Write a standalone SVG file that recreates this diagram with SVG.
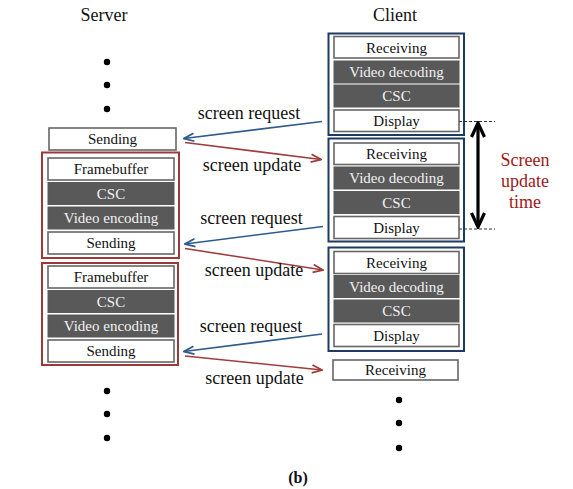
<svg xmlns="http://www.w3.org/2000/svg" width="573" height="489" viewBox="0 0 573 489">
<defs>
<style>
text{font-family:"Liberation Serif","Times New Roman",serif;}
.b{fill:#fff;stroke:#666;stroke-width:1.6;}
.d{fill:#595959;stroke:#595959;stroke-width:1;}
.bt{font-size:15px;text-anchor:middle;fill:#111;}
.dt{font-size:15px;text-anchor:middle;fill:#f2f2f2;}
.rg{fill:none;stroke:#9b3a3a;stroke-width:2;}
.bg{fill:none;stroke:#1f3a60;stroke-width:2;}
.lbl{font-size:18px;text-anchor:middle;fill:#111;}
.ttl{font-size:18px;text-anchor:middle;fill:#111;}
.blue{stroke:#2e5a8c;stroke-width:1.6;fill:none;}
.red{stroke:#a03c3c;stroke-width:1.6;fill:none;}
</style>
<marker id="ab" viewBox="0 0 12 10" refX="11" refY="5" markerWidth="12" markerHeight="10" markerUnits="userSpaceOnUse" orient="auto">
<path d="M1,1 L11,5 L1,9" fill="none" stroke="#2e5a8c" stroke-width="1.8"/>
</marker>
<marker id="ar" viewBox="0 0 12 10" refX="11" refY="5" markerWidth="12" markerHeight="10" markerUnits="userSpaceOnUse" orient="auto">
<path d="M1,1 L11,5 L1,9" fill="none" stroke="#a03c3c" stroke-width="1.8"/>
</marker>
<marker id="ak" viewBox="0 0 18 16" refX="16" refY="8" markerWidth="18" markerHeight="16" markerUnits="userSpaceOnUse" orient="auto">
<path d="M2,1.5 L16,8 L2,14.5" fill="none" stroke="#000" stroke-width="3.2"/>
</marker>
</defs>
<rect width="573" height="489" fill="#fff"/>

<text class="ttl" x="104" y="21">Server</text>
<text class="ttl" x="395" y="21">Client</text>

<g id="server-dots-top" fill="#000">
<circle cx="107" cy="62" r="3.2"/><circle cx="107" cy="85" r="3.2"/><circle cx="107" cy="109" r="3.2"/>
</g>
<g id="server-dots-bottom" fill="#000">
<circle cx="107" cy="391" r="3.2"/><circle cx="107" cy="414" r="3.2"/><circle cx="107" cy="438" r="3.2"/>
</g>
<g id="client-dots-bottom" fill="#000">
<circle cx="399" cy="400" r="3.2"/><circle cx="399" cy="423" r="3.2"/><circle cx="399" cy="448" r="3.2"/>
</g>

<g id="server-sending-0">
<rect class="b" x="49" y="128" width="127" height="22"/>
<text class="bt" x="112.5" y="144">Sending</text>
</g>

<g id="server-frame-1">
<rect class="rg" x="42" y="152.5" width="137" height="105.5"/>
<rect class="b" x="48" y="158" width="126" height="22"/>
<text class="bt" x="111" y="174">Framebuffer</text>
<rect class="d" x="48" y="182.5" width="126" height="22"/>
<text class="dt" x="111" y="198.5">CSC</text>
<rect class="d" x="48" y="207" width="126" height="22"/>
<text class="dt" x="111" y="223">Video encoding</text>
<rect class="b" x="48" y="232" width="126" height="22"/>
<text class="bt" x="111" y="248">Sending</text>
</g>

<g id="server-frame-2">
<rect class="rg" x="42" y="263" width="136" height="102"/>
<rect class="b" x="48" y="266" width="126" height="22"/>
<text class="bt" x="111" y="282">Framebuffer</text>
<rect class="d" x="48" y="290.5" width="126" height="22"/>
<text class="dt" x="111" y="306.5">CSC</text>
<rect class="d" x="48" y="315" width="126" height="22"/>
<text class="dt" x="111" y="331">Video encoding</text>
<rect class="b" x="48" y="340" width="126" height="22"/>
<text class="bt" x="111" y="356">Sending</text>
</g>

<g id="client-frame-1">
<rect class="bg" x="328.5" y="33.5" width="135.5" height="101.5"/>
<rect class="b" x="334" y="36.5" width="125" height="21.5"/>
<text class="bt" x="396.5" y="52.5">Receiving</text>
<rect class="d" x="334" y="61" width="125" height="22"/>
<text class="dt" x="396.5" y="77">Video decoding</text>
<rect class="d" x="334" y="85" width="125" height="22"/>
<text class="dt" x="396.5" y="101">CSC</text>
<rect class="b" x="334" y="110" width="125" height="21.5"/>
<text class="bt" x="396.5" y="126">Display</text>
</g>

<g id="client-frame-2">
<rect class="bg" x="328.5" y="138.5" width="135.5" height="103"/>
<rect class="b" x="334" y="143" width="125" height="21.5"/>
<text class="bt" x="396.5" y="159">Receiving</text>
<rect class="d" x="334" y="167" width="125" height="22"/>
<text class="dt" x="396.5" y="183">Video decoding</text>
<rect class="d" x="334" y="191.5" width="125" height="22"/>
<text class="dt" x="396.5" y="207.5">CSC</text>
<rect class="b" x="334" y="216.5" width="125" height="22"/>
<text class="bt" x="396.5" y="232.5">Display</text>
</g>

<g id="client-frame-3">
<rect class="bg" x="328.5" y="247.5" width="135.5" height="103.5"/>
<rect class="b" x="334" y="251.5" width="125" height="22"/>
<text class="bt" x="396.5" y="267.5">Receiving</text>
<rect class="d" x="334" y="275.5" width="125" height="22"/>
<text class="dt" x="396.5" y="291.5">Video decoding</text>
<rect class="d" x="334" y="300" width="125" height="22"/>
<text class="dt" x="396.5" y="316">CSC</text>
<rect class="b" x="334" y="324.5" width="125" height="22"/>
<text class="bt" x="396.5" y="340.5">Display</text>
</g>

<g id="client-receiving-4">
<rect class="b" x="333" y="360" width="125" height="20"/>
<text class="bt" x="395.5" y="375">Receiving</text>
</g>

<g id="connectors">
<line class="blue" x1="322" y1="121.5" x2="184" y2="138.5" marker-end="url(#ab)"/>
<line class="red" x1="185" y1="142.5" x2="321" y2="159.5" marker-end="url(#ar)"/>
<line class="blue" x1="323" y1="226.5" x2="185" y2="244" marker-end="url(#ab)"/>
<line class="red" x1="185" y1="248.5" x2="323" y2="270" marker-end="url(#ar)"/>
<line class="blue" x1="322" y1="334" x2="184" y2="351.5" marker-end="url(#ab)"/>
<line class="red" x1="185" y1="356" x2="322" y2="370" marker-end="url(#ar)"/>
<line x1="459" y1="121.5" x2="495" y2="121.5" stroke="#333" stroke-width="1" stroke-dasharray="3,2"/>
<line x1="459" y1="229" x2="495" y2="229" stroke="#333" stroke-width="1" stroke-dasharray="3,2"/>
<line x1="478" y1="175" x2="478" y2="123" stroke="#000" stroke-width="3.2" marker-end="url(#ak)"/>
<line x1="478" y1="175" x2="478" y2="227" stroke="#000" stroke-width="3.2" marker-end="url(#ak)"/>
</g>

<g id="labels">
<text class="lbl" x="249" y="119">screen request</text>
<text class="lbl" x="252" y="171">screen update</text>
<text class="lbl" x="251.5" y="223.5">screen request</text>
<text class="lbl" x="254" y="276">screen update</text>
<text class="lbl" x="251" y="331.5">screen request</text>
<text class="lbl" x="254.5" y="384">screen update</text>
</g>

<g id="screen-update-time" fill="#a01818" font-size="18" text-anchor="middle">
<text x="525" y="166">Screen</text>
<text x="525" y="187">update</text>
<text x="525" y="208">time</text>
</g>

<text x="298" y="483" font-size="16" font-weight="bold" text-anchor="middle" fill="#111">(b)</text>
</svg>
